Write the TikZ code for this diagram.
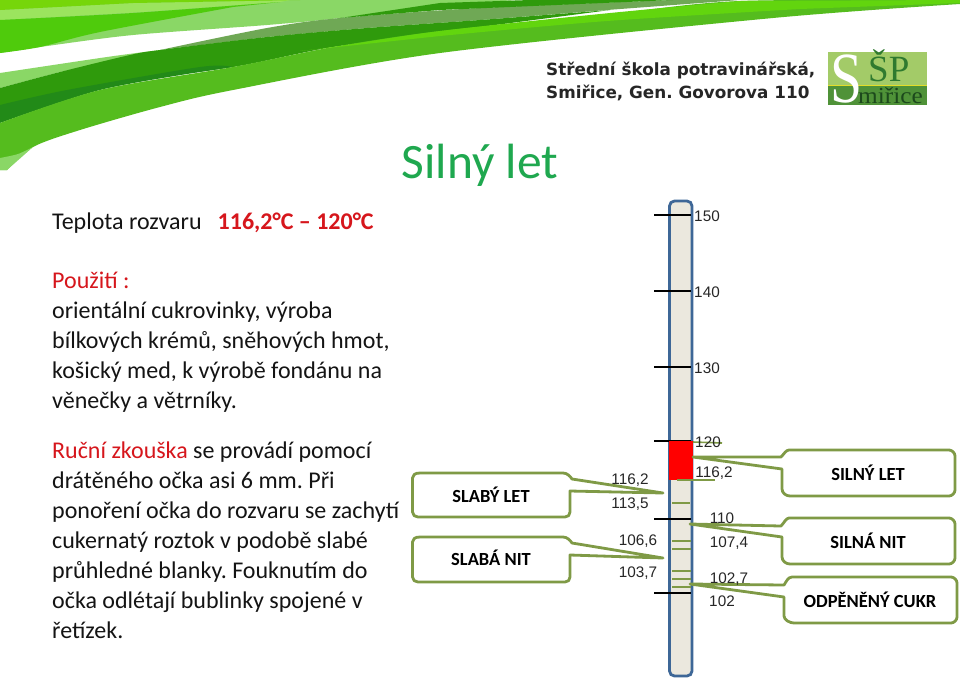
\documentclass[tikz,border=0pt]{standalone}
\usepackage{fontspec}
\setmainfont{Carlito}
\newfontfamily\arialf{Liberation Sans}
\newfontfamily\dejav{DejaVu Sans}
\newfontfamily\serf{Liberation Serif}
\frenchspacing
\definecolor{gA}{HTML}{55BC1E}
\definecolor{gB}{HTML}{62D50E}
\definecolor{gC}{HTML}{2F9A0C}
\definecolor{gD}{HTML}{228A18}
\definecolor{gE}{HTML}{6FA855}
\definecolor{gF}{HTML}{8AD766}
\definecolor{gG}{HTML}{4FCB0C}
\definecolor{gH}{HTML}{9BE45E}
\definecolor{gI}{HTML}{76D60A}
\definecolor{olive}{HTML}{7F9A46}
\definecolor{tube}{HTML}{EBE8DE}
\definecolor{tubeb}{HTML}{3E6797}
\definecolor{title}{HTML}{1FA84F}
\definecolor{redt}{HTML}{D6161C}
\definecolor{logoL}{HTML}{A3CB68}
\definecolor{logoD}{HTML}{4F9238}
\definecolor{logoT}{HTML}{2F7A2F}
\tikzset{
  body/.style={anchor=base west,inner sep=0pt,font=\fontsize{24}{30}\selectfont,text=black!92},
  num/.style={inner sep=0pt,font=\arialf\fontsize{15.3}{16}\selectfont,text=black!85},
  call/.style={draw=olive,line width=2.8pt,fill=white,line join=round},
  lbl/.style={inner sep=0pt,font=\bfseries\fontsize{18.5}{20}\selectfont,text=black},
  mark tick/.style={draw=olive,line width=1.6pt},
  big tick/.style={draw=black,line width=2.4pt},
}
\begin{document}
\begin{tikzpicture}[x=1pt,y=-1pt]
\useasboundingbox (0,0) rectangle (960,681);
\fill[white] (0,0) rectangle (960,681);
% swoosh
\fill[gF] plot[smooth,tension=0.5] coordinates {(0,53) (40,47) (133,35) (267,25) (340,18) (430,6) (520,0)} -- (0,0) -- cycle;
\fill[gH] (0,10) -- (133,3) -- (290,0) -- (280,2) -- (143,12) -- (0,20) -- cycle;
\fill[gI] (0,0) -- (300,0) -- (133,3) -- (0,10) -- cycle;
\fill[gG] plot[smooth,tension=0.5] coordinates {(0,20) (133,13) (280,2)} -- plot[smooth,tension=0.5] coordinates {(233,7) (100,32) (40,47) (0,53)} -- cycle;
\fill[gF] plot[smooth,tension=0.5] coordinates {(0,73) (107,57) (160,50)} -- (60,72) -- (0,88) -- cycle;
\fill[gE] plot[smooth,tension=0.5] coordinates {(160,50) (267,28) (340,18) (480,8) (673,0)} -- (740,0) -- plot[smooth,tension=0.5] coordinates {(607,10) (480,20) (367,28) (267,37)} -- cycle;
\fill[gC] plot[smooth,tension=0.5] coordinates {(0,88) (60,72) (130,55) (160,50) (267,37) (367,28) (480,20) (610,10)} -- plot[smooth,tension=0.5] coordinates {(480,27) (333,47) (233,67) (100,85) (0,110)} -- cycle;
\fill[gD] plot[smooth,tension=0.5] coordinates {(0,105) (67,90) (200,67) (233,67)} -- plot[smooth,tension=0.5] coordinates {(200,72) (100,90) (0,123)} -- cycle;
\fill[gC] (340,18) -- (440,3) -- (530,0) -- (673,0) -- (440,10) -- cycle;
\fill[gA] plot[smooth,tension=0.5] coordinates {(0,123) (100,90) (233,67) (333,47) (440,31) (610,14) (740,1) (960,0)} -- plot[smooth,tension=0.5] coordinates {(960,4) (773,18) (440,53) (233,90) (160,107) (80,130) (33,147) (7,170)} -- (0,170) -- cycle;
\fill[gF] plot[smooth,tension=0.5] coordinates {(0,158) (18,154) (33,147)} -- (7,170) -- (0,170) -- cycle;
\fill[gB] plot[smooth,tension=0.5] coordinates {(300,51) (333,47) (440,31) (610,13) (740,1)} -- (960,0) -- (960,3) -- plot[smooth,tension=0.5] coordinates {(800,9) (607,21) (440,36)} -- cycle;
% title and header
\node[inner sep=0pt,text=title,font=\fontsize{49.5}{50}\selectfont] (ttl) at (480,165) {Silný let};
\node[inner sep=0pt,anchor=base west,font=\dejav\bfseries\fontsize{16.8}{23}\selectfont,text=black!85,align=left] (sch) at (546,98) {Střední škola potravinářská,\\Smiřice, Gen. Govorova 110};
% logo
\fill[logoL] (828,52) rectangle (927,86);
\fill[logoD] (828,86) rectangle (927,105);
\draw[yellow!75!olive,line width=1pt] (828,85.500) -- (927,85.500);
\node[inner sep=0pt,anchor=base west,text=logoT,font=\serf\fontsize{37}{37}\selectfont] (lgp) at (868,81) {ŠP};
\node[inner sep=0pt,anchor=base west,xscale=1.1,text=logoT!60!black,font=\serf\fontsize{23}{23}\selectfont] (lgm) at (858,103) {miřice};
\node[inner sep=0pt,anchor=base west,xscale=0.8,font=\serf\fontsize{72}{72}\selectfont,text=white] (lgs) at (830,102) {S};
% left text
\node[body] (tep) at (52,229) {Teplota rozvaru\hspace{16pt}\textcolor{redt}{\bfseries 116,2°C – 120°C}};
\node[body,align=left] (pou) at (52,408) {\textcolor{redt}{Použití :}\\orientální cukrovinky, výroba\\bílkových krémů, sněhových hmot,\\košický med, k výrobě fondánu na\\věnečky a větrníky.};
\node[body,align=left] (ruc) at (52,638) {\textcolor{redt}{Ruční zkouška} se provádí pomocí\\drátěného očka asi 6 mm. Při\\ponoření očka do rozvaru se zachytí\\cukernatý roztok v podobě slabé\\průhledné blanky. Fouknutím do\\očka odlétají bublinky spojené v\\řetízek.};
% thermometer
\draw[tubeb,fill=tube,line width=2.8pt,rounded corners=5pt] (669.500,201) rectangle (692,676);
\foreach \y in {215,291,367,441,519,593}{\draw[big tick] (654,\y) -- (691,\y);}
\fill[red] (669,441) rectangle (693,480);
\foreach \y/\a/\b in {480/677/715,503/672/690,541/672/691,549/672/691,571/672/691,579/672/691,587/672/691}{\draw[mark tick] (\a,\y) -- (\b,\y);}
\draw[mark tick] (693,442) -- (722,443);
% callouts
\coordinate (ps) at (663,493);
\coordinate (pn) at (663,558);
\coordinate (qs) at (693,457);
\coordinate (qn) at (690,524);
\coordinate (qo) at (690,584);
\draw[call] (420,473) -- (563,473) .. controls (567,473) and (570,476) .. (572,479) -- (ps) -- (570,491)
  -- (570,512) .. controls (570,515) and (568,517) .. (565,517) -- (418,517) .. controls (415,517) and (412.500,515) .. (412.500,512) -- (412.500,478) .. controls (412.500,475) and (415,473) .. (420,473) -- cycle;
\draw[call] (420,537) -- (563,537) .. controls (567,537) and (570,540) .. (572,543) -- (pn) -- (570,555)
  -- (570,577) .. controls (570,580) and (568,582) .. (565,582) -- (418,582) .. controls (415,582) and (412.500,580) .. (412.500,577) -- (412.500,542) .. controls (412.500,539) and (415,537) .. (420,537) -- cycle;
\draw[call] (789,450) -- (949,450) .. controls (952,450) and (955,453) .. (955,456) -- (955,490) .. controls (955,493) and (952,496) .. (949,496) -- (790,496) .. controls (786,496) and (782,493) .. (782,489) -- (782,469) -- (qs) -- (781,457) .. controls (784,454) and (786,450) .. (789,450) -- cycle;
\draw[call] (789,518) -- (949,518) .. controls (952,518) and (955,521) .. (955,524) -- (955,558) .. controls (955,561) and (952,564) .. (949,564) -- (790,564) .. controls (786,564) and (782,561) .. (782,557) -- (782,537) -- (qn) -- (781,526) .. controls (784,523) and (786,518) .. (789,518) -- cycle;
\draw[call] (792,577) -- (951,577) .. controls (954,577) and (957,580) .. (957,583) -- (957,617) .. controls (957,620) and (954,623) .. (951,623) -- (794,623) .. controls (790,623) and (784,620) .. (784,616) -- (784,597) -- (qo) -- (784,585) .. controls (786,582) and (788,577) .. (792,577) -- cycle;
\node[lbl] (slet) at (491,495) {SLABÝ LET};
\node[lbl] (snit) at (491,558) {SLABÁ NIT};
\node[lbl] (silet) at (868,473) {SILNÝ LET};
\node[lbl] (sinit) at (868,541) {SILNÁ NIT};
\node[lbl] (odp) at (870,600) {ODPĚNĚNÝ CUKR};
% numbers
\node[num] (n150) at (707,216) {150};
\node[num] (n140) at (707,292) {140};
\node[num] (n130) at (707,368) {130};
\node[num] (n120) at (708,442) {120};
\node[num] (n116r) at (714,473) {116,2};
\node[num] (n110) at (722,518) {110};
\node[num] (n107) at (729,543) {107,4};
\node[num] (n1027) at (729,579) {102,7};
\node[num] (n102) at (722,601) {102};
\node[num] (n116l) at (630,480) {116,2};
\node[num] (n113) at (630,504) {113,5};
\node[num] (n106) at (638,541) {106,6};
\node[num] (n103) at (638,573) {103,7};
\end{tikzpicture}
\end{document}
